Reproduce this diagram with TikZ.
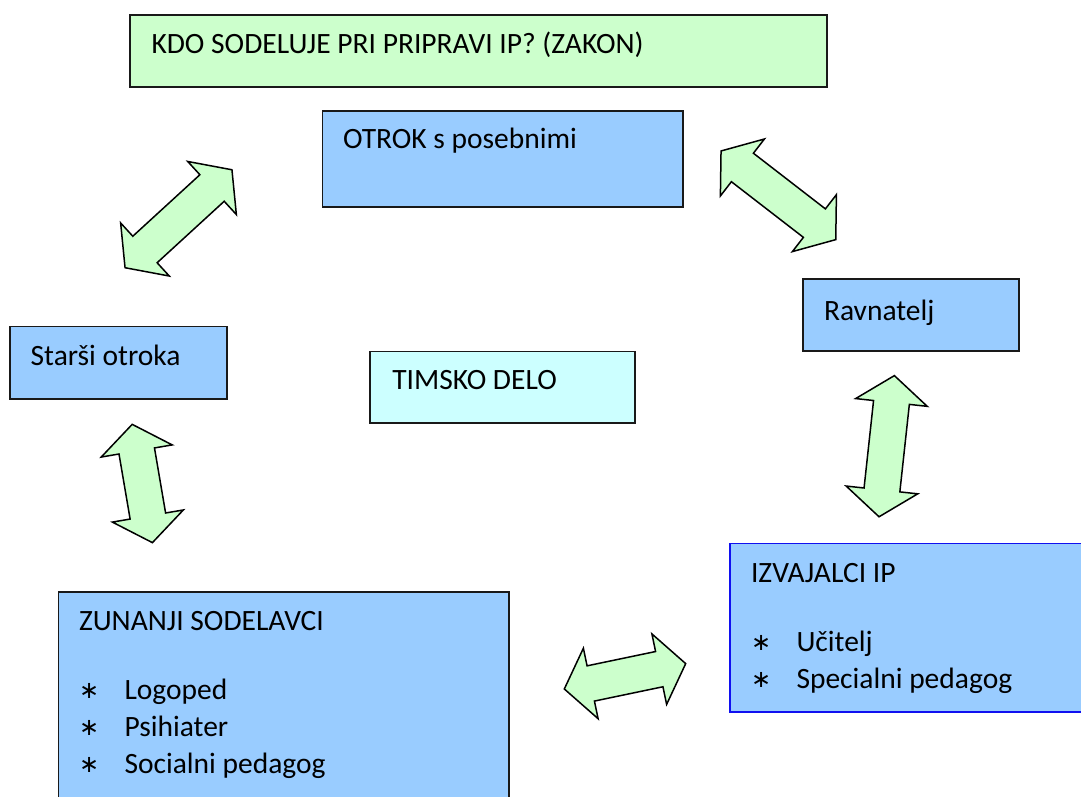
\documentclass[tikz,border=0pt]{standalone}
\usepackage{fontspec}
\setmainfont{Carlito}
\newfontfamily\bulfont{DejaVu Sans}
\usetikzlibrary{calc}
\definecolor{boxgreen}{HTML}{CCFFCC}
\definecolor{boxblue}{HTML}{99CCFF}
\definecolor{boxcyan}{HTML}{CCFFFF}
\definecolor{edgeblue}{HTML}{1010F0}
\newcommand\dblarr[4]{%
  \coordinate (#1) at (#2);%
  \pgfmathsetmacro\arrA{#4/2}%
  \pgfmathsetmacro\arrB{#4/2-27}%
  \draw[arr, shift={(#1)}, rotate=#3] (-\arrA,0) -- (-\arrB,36) -- (-\arrB,18) -- (\arrB,18) -- (\arrB,36) -- (\arrA,0) -- (\arrB,-36) -- (\arrB,-18) -- (-\arrB,-18) -- (-\arrB,-36) -- cycle;}
\newcommand\bul[1]{\makebox[45.5pt][l]{\raisebox{1pt}{\bulfont\fontsize{24}{30}\selectfont ∗}}#1}
\begin{document}
\begin{tikzpicture}[x=1pt,y=1pt,
  box/.style={draw=black!90, line width=1.6pt, anchor=north west, inner sep=0pt, outer sep=0pt},
  lbl/.style={anchor=base west, inner sep=0pt, outer sep=0pt, font=\fontsize{29.5}{35}\selectfont},
  arr/.style={draw=black, line width=1.5pt, fill=boxgreen, line join=miter}]
\clip (0,0) rectangle (1081,796);
% boxes
\node[box, fill=boxgreen, minimum width=697pt, minimum height=72.3pt] (title) at (130,781) {};
\node[box, fill=boxblue, minimum width=360.7pt, minimum height=96pt] (otrok) at (322.3,685) {};
\node[box, fill=boxblue, minimum width=216.7pt, minimum height=72.6pt] (starsi) at (10,469.3) {};
\node[box, fill=boxcyan, minimum width=265pt, minimum height=71.6pt] (timsko) at (370,444.3) {};
\node[box, fill=boxblue, minimum width=216.3pt, minimum height=71.7pt] (ravn) at (802.7,516.7) {};
\node[box, fill=boxblue, draw=edgeblue, minimum width=370pt, minimum height=168.4pt] (izv) at (730,252.7) {};
\node[box, fill=boxblue, minimum width=450.7pt, minimum height=230pt] (zun) at (58.3,204.3) {};
% texts
\node[lbl] (title-t) at ($(title.north west)+(21.5,-39)$) {KDO SODELUJE PRI PRIPRAVI IP? (ZAKON)};
\node[lbl] (otrok-t) at ($(otrok.north west)+(20.7,-37.3)$) {OTROK s posebnimi};
\node[lbl] (starsi-t) at ($(starsi.north west)+(20.7,-39)$) {Starši otroka};
\node[lbl] (timsko-t) at ($(timsko.north west)+(22.3,-37.6)$) {TIMSKO DELO};
\node[lbl] (ravn-t) at ($(ravn.north west)+(21.3,-41.4)$) {Ravnatelj};
\node[lbl] (izv-t) at ($(izv.north west)+(21,-39)$) {IZVAJALCI IP};
\node[lbl] (izv-1) at ($(izv.north west)+(21,-108.4)$) {\bul{Učitelj}};
\node[lbl] (izv-2) at ($(izv.north west)+(21,-145)$) {\bul{Specialni pedagog}};
\node[lbl] (zun-t) at ($(zun.north west)+(20.7,-38.3)$) {ZUNANJI SODELAVCI};
\node[lbl] (zun-1) at ($(zun.north west)+(20.7,-107.3)$) {\bul{Logoped}};
\node[lbl] (zun-2) at ($(zun.north west)+(20.7,-144.3)$) {\bul{Psihiater}};
\node[lbl] (zun-3) at ($(zun.north west)+(20.7,-181.6)$) {\bul{Socialni pedagog}};
% double arrows
\dblarr{a1}{178.5,577.25}{42.5}{145}
\dblarr{a2}{778.4,600.7}{-37.7}{145}
\dblarr{a3}{886.7,349.8}{83.8}{142}
\dblarr{a4}{142.3,312.5}{99.7}{120}
\dblarr{a5}{625,119.7}{11.8}{124}
\end{tikzpicture}
\end{document}
